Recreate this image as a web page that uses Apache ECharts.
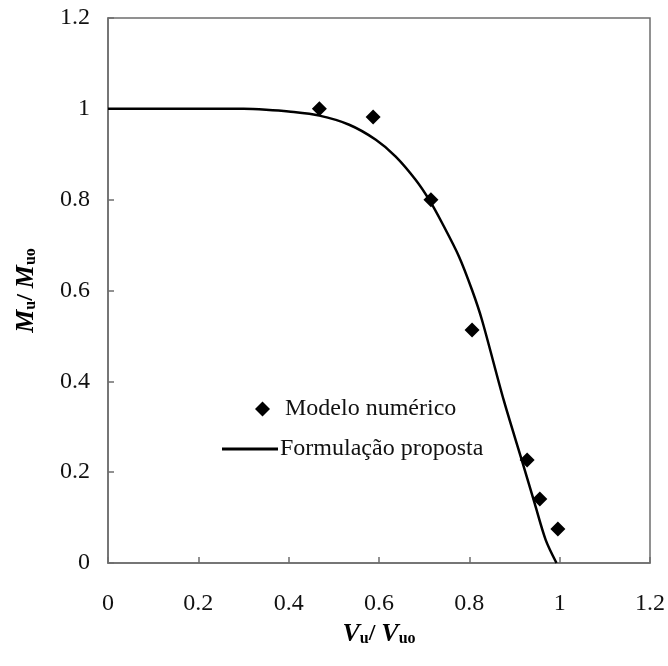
<!DOCTYPE html>
<html>
<head>
<meta charset="utf-8">
<script src="https://cdn.jsdelivr.net/npm/echarts@6.0.0/dist/echarts.min.js"></script>
<style>
  html, body { margin: 0; padding: 0; background: #fff; }
  #chart { width: 668px; height: 666px; }
</style>
</head>
<body>
<div id="chart"></div>
<script>
// --- DATA ---
const modeloX = [0.468, 0.587, 0.715, 0.806, 0.928, 0.956, 0.996];
const modeloY = [1.0, 0.982, 0.80, 0.513, 0.227, 0.141, 0.075];

const formX = [0, 0.1, 0.2, 0.3, 0.35, 0.4, 0.468, 0.534, 0.593, 0.637, 0.681, 0.711, 0.74, 0.777, 0.806, 0.828, 0.876, 0.916, 0.945, 0.969, 0.993];
const formY = [1, 1, 1, 1, 0.998, 0.994, 0.985, 0.965, 0.932, 0.895, 0.844, 0.80, 0.748, 0.675, 0.601, 0.535, 0.359, 0.227, 0.13, 0.051, 0];

const FONT = 'Liberation Serif';
const AXIS = '#6e6e6e';

const zip = (xs, ys) => xs.map((x, i) => [x, ys[i]]);

const nameRich = {
    a: { fontFamily: FONT, fontSize: 26, fontWeight: 'bold', fontStyle: 'italic', color: '#000' },
    s: { fontFamily: FONT, fontSize: 16, fontWeight: 'bold', color: '#000', verticalAlign: 'bottom', padding: [10, 0, 0, 0] },
    c: { fontFamily: FONT, fontSize: 24, fontWeight: 'bold', color: '#000' }
};

const axisCommon = {
    type: 'value',
    min: 0,
    max: 1.2,
    interval: 0.2,
    splitLine: { show: false },
    axisLine: { show: true, lineStyle: { color: AXIS, width: 1.5 } },
    axisTick: { show: true, inside: true, length: 6, lineStyle: { color: AXIS, width: 1.5 } },
    axisLabel: { fontFamily: FONT, fontSize: 24, color: '#111', formatter: v => String(+v.toFixed(1)) },
    nameLocation: 'middle',
    nameTextStyle: { rich: nameRich }
};

const chart = echarts.init(document.getElementById('chart'));
chart.setOption({
    backgroundColor: '#fff',
    animation: false,
    grid: { left: 108, right: 16, top: 18, bottom: 103, show: true, borderColor: AXIS, borderWidth: 1.5 },
    xAxis: Object.assign({}, axisCommon, {
        name: '{a|V}{s|u}{c|/ }{a|V}{s|uo}',
        nameGap: 56,
        axisLabel: Object.assign({}, axisCommon.axisLabel, { margin: 29 })
    }),
    yAxis: Object.assign({}, axisCommon, {
        name: '{a|M}{s|u}{c|/ }{a|M}{s|uo}',
        nameGap: 69,
        nameRotate: 90,
        axisLabel: Object.assign({}, axisCommon.axisLabel, { margin: 18 })
    }),
    legend: [
        {
            data: [{ name: 'Modelo numérico', icon: 'diamond' }],
            left: 255, top: 397, padding: 0,
            itemWidth: 15, itemHeight: 15,
            textStyle: { fontFamily: FONT, fontSize: 24, color: '#111', padding: [0, 0, 0, 10] }
        },
        {
            data: [{ name: 'Formulação proposta', icon: 'rect' }],
            left: 222, top: 437, padding: 0,
            itemWidth: 56, itemHeight: 3,
            textStyle: { fontFamily: FONT, fontSize: 24, color: '#111', padding: [0, 0, 0, -3] }
        }
    ],
    series: [
        {
            name: 'Formulação proposta',
            type: 'line',
            data: zip(formX, formY),
            smooth: 0.3,
            symbol: 'none',
            lineStyle: { color: '#000', width: 2.5 },
            itemStyle: { color: '#000' }
        },
        {
            name: 'Modelo numérico',
            type: 'scatter',
            data: zip(modeloX, modeloY),
            symbol: 'diamond',
            symbolSize: 15,
            itemStyle: { color: '#000', opacity: 1 }
        }
    ]
});
</script>
</body>
</html>
